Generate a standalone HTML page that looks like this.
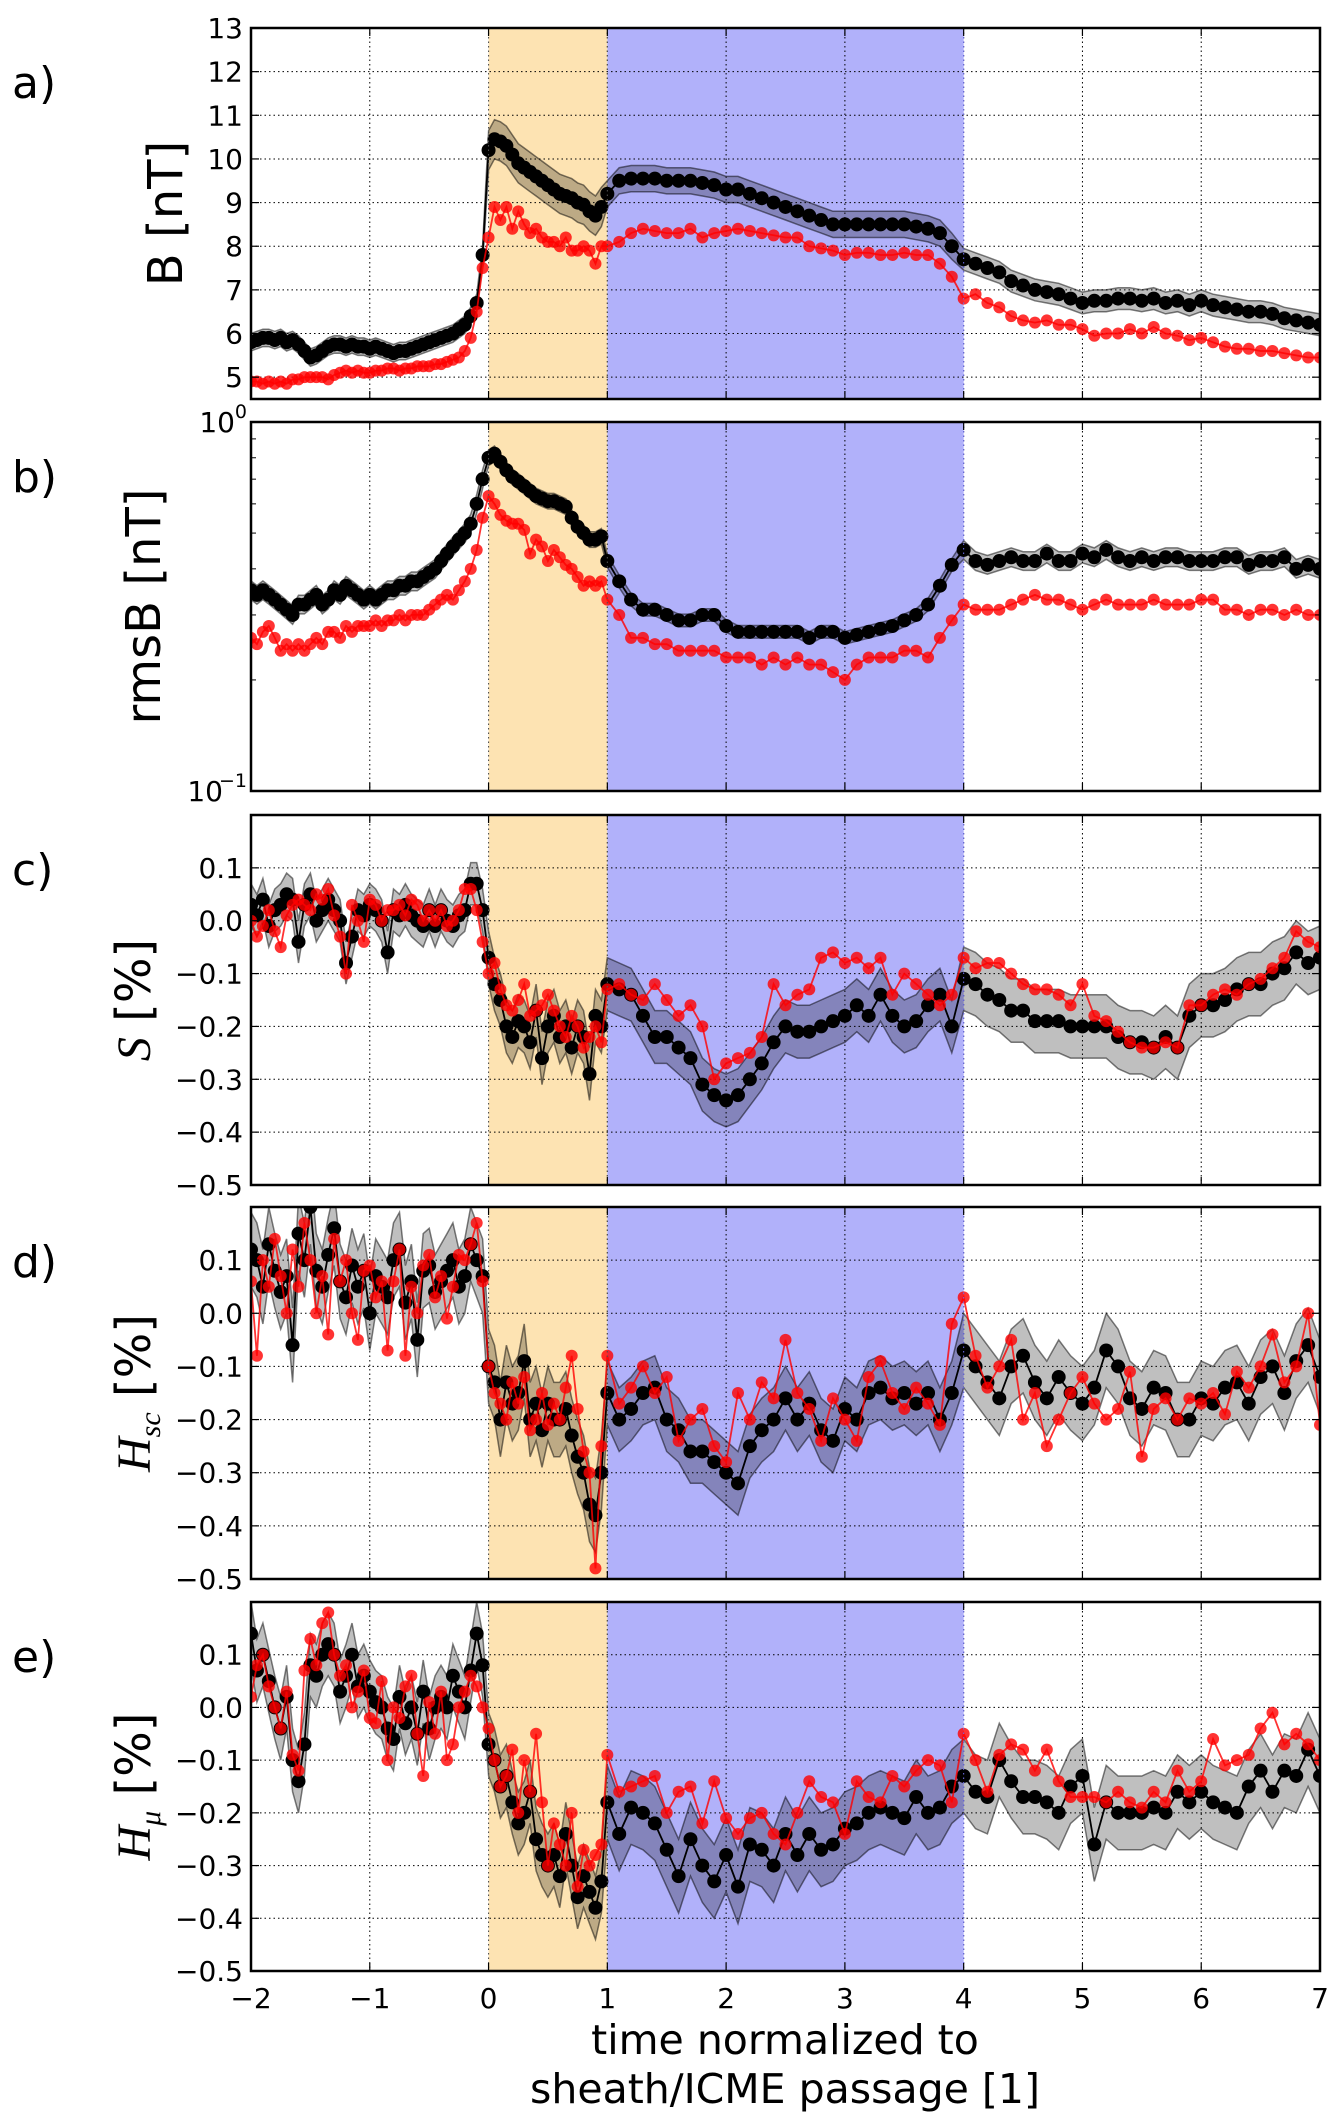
<!DOCTYPE html>
<html><head><meta charset="utf-8"><style>
html,body{margin:0;padding:0;background:#fff;}
svg{display:block;font-family:"DejaVu Sans","Liberation Sans",sans-serif;}
</style></head><body>
<svg id="chart" width="1343" height="2120" viewBox="0 0 1343 2120" xmlns="http://www.w3.org/2000/svg"></svg>
<script>
const times=[-2,-1.95,-1.9,-1.85,-1.8,-1.75,-1.7,-1.65,-1.6,-1.55,-1.5,-1.45,-1.4,-1.35,-1.3,-1.25,-1.2,-1.15,-1.1,-1.05,-1,-0.95,-0.9,-0.85,-0.8,-0.75,-0.7,-0.65,-0.6,-0.55,-0.5,-0.45,-0.4,-0.35,-0.3,-0.25,-0.2,-0.15,-0.1,-0.05,
0,0.05,0.1,0.15,0.2,0.25,0.3,0.35,0.4,0.45,0.5,0.55,0.6,0.65,0.7,0.75,0.8,0.85,0.9,0.95,
1,1.1,1.2,1.3,1.4,1.5,1.6,1.7,1.8,1.9,2,2.1,2.2,2.3,2.4,2.5,2.6,2.7,2.8,2.9,3,3.1,3.2,3.3,3.4,3.5,3.6,3.7,3.8,3.9,
4,4.1,4.2,4.3,4.4,4.5,4.6,4.7,4.8,4.9,5,5.1,5.2,5.3,5.4,5.5,5.6,5.7,5.8,5.9,6,6.1,6.2,6.3,6.4,6.5,6.6,6.7,6.8,6.9,7];
const xTicks=[-2,-1,0,1,2,3,4,5,6,7];
const regionBounds=[0,1,4];
// panel a
const aBlack=[5.8,5.85,5.9,5.9,5.85,5.9,5.8,5.85,5.75,5.6,5.45,5.5,5.6,5.7,5.75,5.75,5.7,5.75,5.7,5.7,5.65,5.7,5.65,5.6,5.55,5.6,5.6,5.65,5.7,5.75,5.8,5.85,5.9,5.95,6.0,6.1,6.2,6.4,6.7,7.8,
10.2,10.45,10.4,10.3,10.1,9.9,9.8,9.7,9.6,9.5,9.4,9.3,9.2,9.15,9.1,9.0,8.95,8.8,8.7,8.9,
9.2,9.5,9.55,9.55,9.55,9.5,9.5,9.5,9.45,9.4,9.3,9.3,9.2,9.1,9.0,8.9,8.8,8.7,8.6,8.5,8.5,8.5,8.5,8.5,8.5,8.5,8.45,8.4,8.3,8.0,
7.7,7.6,7.5,7.4,7.2,7.1,7.0,6.95,6.9,6.8,6.7,6.75,6.75,6.8,6.8,6.75,6.8,6.7,6.75,6.65,6.75,6.65,6.6,6.55,6.5,6.5,6.45,6.35,6.3,6.25,6.2];
const aRed=[4.9,4.9,4.85,4.9,4.85,4.9,4.85,4.95,4.95,5.0,5.0,5.0,5.0,4.95,5.05,5.1,5.15,5.1,5.15,5.1,5.1,5.15,5.15,5.2,5.2,5.15,5.2,5.2,5.25,5.25,5.25,5.3,5.3,5.35,5.4,5.45,5.6,5.9,6.5,7.5,
8.2,8.9,8.6,8.9,8.4,8.8,8.5,8.3,8.4,8.2,8.1,8.1,8.0,8.2,7.9,7.9,8.0,7.9,7.6,8.0,
8.0,8.1,8.3,8.4,8.35,8.3,8.3,8.4,8.2,8.3,8.35,8.4,8.35,8.3,8.25,8.2,8.2,8.0,7.95,7.9,7.8,7.85,7.85,7.8,7.8,7.85,7.8,7.8,7.6,7.3,
6.8,6.9,6.7,6.6,6.4,6.3,6.25,6.3,6.2,6.2,6.1,5.95,6.0,6.0,6.1,6.0,6.15,6.0,5.95,5.85,5.9,5.8,5.7,5.65,5.65,5.6,5.6,5.55,5.5,5.45,5.45];
const aSpread=[0.2,0.45,0.3,0.25];
const aTicks=[5,6,7,8,9,10,11,12,13];
// panel b (log)
const bBlack=[0.35,0.34,0.35,0.34,0.33,0.32,0.31,0.30,0.32,0.32,0.33,0.34,0.32,0.33,0.35,0.34,0.36,0.35,0.34,0.33,0.34,0.33,0.34,0.35,0.35,0.36,0.36,0.37,0.37,0.38,0.39,0.40,0.42,0.44,0.46,0.48,0.50,0.53,0.60,0.70,
0.80,0.82,0.78,0.74,0.71,0.69,0.67,0.65,0.63,0.62,0.61,0.61,0.60,0.59,0.55,0.52,0.50,0.48,0.48,0.49,
0.42,0.37,0.33,0.31,0.31,0.30,0.29,0.29,0.30,0.30,0.28,0.27,0.27,0.27,0.27,0.27,0.27,0.26,0.27,0.27,0.26,0.265,0.27,0.275,0.28,0.29,0.30,0.32,0.36,0.41,
0.45,0.42,0.41,0.42,0.43,0.42,0.42,0.44,0.42,0.42,0.44,0.43,0.45,0.43,0.42,0.43,0.42,0.43,0.43,0.42,0.42,0.42,0.43,0.43,0.41,0.42,0.42,0.43,0.40,0.41,0.40];
const bRed=[0.26,0.25,0.27,0.28,0.26,0.24,0.25,0.24,0.25,0.24,0.25,0.26,0.25,0.27,0.27,0.26,0.28,0.27,0.28,0.28,0.28,0.29,0.28,0.29,0.29,0.30,0.29,0.30,0.30,0.30,0.31,0.32,0.33,0.34,0.33,0.35,0.37,0.40,0.45,0.55,
0.63,0.60,0.56,0.54,0.53,0.53,0.51,0.44,0.48,0.46,0.42,0.45,0.43,0.41,0.40,0.38,0.36,0.37,0.36,0.37,
0.33,0.30,0.26,0.26,0.25,0.25,0.24,0.24,0.24,0.24,0.23,0.23,0.23,0.22,0.23,0.22,0.23,0.22,0.22,0.21,0.20,0.22,0.23,0.23,0.23,0.24,0.24,0.23,0.26,0.29,
0.32,0.31,0.31,0.31,0.32,0.33,0.34,0.33,0.33,0.32,0.31,0.32,0.33,0.32,0.32,0.32,0.33,0.32,0.32,0.32,0.33,0.33,0.31,0.31,0.30,0.31,0.31,0.30,0.31,0.30,0.30];
const bSpread=[0.06,0.05,0.04,0.06];
// panel c
const cBlack=[0.03,0.01,0.04,-0.01,0.02,0.03,0.05,0.04,-0.04,0.03,0.05,0.0,0.02,0.04,0.02,0.0,-0.08,-0.03,0.02,0.01,0.03,0.02,0.0,-0.06,0.02,0.01,0.03,0.01,0.0,-0.01,0.02,-0.01,0.02,0.0,-0.01,0.01,0.02,0.07,0.07,0.02,
-0.07,-0.12,-0.15,-0.2,-0.22,-0.19,-0.2,-0.23,-0.17,-0.26,-0.2,-0.18,-0.22,-0.2,-0.24,-0.2,-0.22,-0.29,-0.18,-0.2,
-0.12,-0.13,-0.14,-0.18,-0.22,-0.22,-0.24,-0.26,-0.31,-0.33,-0.34,-0.33,-0.3,-0.27,-0.23,-0.2,-0.21,-0.21,-0.2,-0.19,-0.18,-0.16,-0.18,-0.14,-0.18,-0.2,-0.19,-0.16,-0.14,-0.2,
-0.11,-0.12,-0.14,-0.15,-0.17,-0.17,-0.19,-0.19,-0.19,-0.2,-0.2,-0.2,-0.2,-0.22,-0.23,-0.23,-0.24,-0.22,-0.24,-0.18,-0.16,-0.16,-0.15,-0.13,-0.12,-0.12,-0.1,-0.09,-0.06,-0.08,-0.07];
const cRed=[0.0,-0.03,-0.01,0.02,-0.02,-0.05,0.01,0.03,0.04,0.03,0.02,0.05,0.04,0.06,0.01,-0.03,-0.1,0.03,0.0,-0.04,0.04,0.03,0.0,0.02,0.02,0.03,0.01,0.04,0.03,0.0,0.02,0.0,0.02,-0.01,0.0,0.02,0.06,0.06,0.02,-0.04,
-0.1,-0.08,-0.13,-0.16,-0.17,-0.15,-0.12,-0.18,-0.17,-0.16,-0.14,-0.17,-0.2,-0.22,-0.18,-0.2,-0.24,-0.22,-0.2,-0.23,
-0.13,-0.12,-0.14,-0.15,-0.12,-0.15,-0.18,-0.16,-0.2,-0.3,-0.27,-0.26,-0.25,-0.22,-0.12,-0.16,-0.14,-0.13,-0.07,-0.06,-0.08,-0.07,-0.09,-0.07,-0.14,-0.1,-0.12,-0.14,-0.16,-0.14,
-0.07,-0.09,-0.08,-0.08,-0.1,-0.12,-0.13,-0.13,-0.14,-0.16,-0.12,-0.18,-0.19,-0.21,-0.23,-0.24,-0.24,-0.23,-0.24,-0.16,-0.16,-0.14,-0.13,-0.14,-0.12,-0.11,-0.09,-0.07,-0.02,-0.04,-0.05];
const cSpread=[0.04,0.05,0.05,0.06];
// panel d
const dBlack=[0.12,0.1,0.05,0.13,0.08,0.04,0.07,-0.06,0.15,0.1,0.2,0.08,0.05,0.11,0.16,0.06,0.03,0.09,0.05,0.08,0.0,0.07,0.05,0.03,0.1,0.12,0.02,0.06,-0.05,0.08,0.09,0.04,0.06,0.08,0.1,0.05,0.07,0.13,0.1,0.07,
-0.1,-0.13,-0.2,-0.13,-0.17,-0.15,-0.09,-0.2,-0.17,-0.22,-0.17,-0.2,-0.2,-0.18,-0.23,-0.27,-0.3,-0.36,-0.38,-0.3,
-0.15,-0.2,-0.18,-0.15,-0.14,-0.2,-0.22,-0.26,-0.26,-0.28,-0.3,-0.32,-0.25,-0.22,-0.2,-0.16,-0.2,-0.17,-0.22,-0.24,-0.18,-0.2,-0.15,-0.14,-0.16,-0.15,-0.17,-0.15,-0.2,-0.15,
-0.07,-0.1,-0.13,-0.16,-0.1,-0.08,-0.13,-0.16,-0.12,-0.15,-0.17,-0.14,-0.07,-0.1,-0.16,-0.18,-0.14,-0.15,-0.2,-0.2,-0.16,-0.17,-0.14,-0.13,-0.17,-0.12,-0.1,-0.15,-0.09,-0.06,-0.12];
const dRed=[0.06,-0.08,0.1,0.05,0.14,0.07,0.0,0.12,0.05,0.17,0.1,0.0,0.07,-0.04,0.14,0.06,0.1,0.0,-0.05,0.08,0.09,0.03,0.06,-0.07,0.06,0.12,-0.08,0.05,0.0,0.09,0.11,0.03,0.07,-0.01,0.05,0.11,0.1,0.13,0.17,0.06,
-0.1,-0.15,-0.17,-0.2,-0.13,-0.17,-0.12,-0.22,-0.2,-0.15,-0.21,-0.17,-0.2,-0.14,-0.08,-0.18,-0.26,-0.3,-0.48,-0.25,
-0.08,-0.17,-0.14,-0.1,-0.15,-0.12,-0.24,-0.2,-0.18,-0.25,-0.28,-0.15,-0.2,-0.13,-0.16,-0.05,-0.15,-0.18,-0.24,-0.16,-0.2,-0.24,-0.12,-0.09,-0.15,-0.18,-0.14,-0.17,-0.21,-0.02,
0.03,-0.08,-0.14,-0.1,-0.05,-0.2,-0.15,-0.25,-0.2,-0.15,-0.12,-0.17,-0.2,-0.18,-0.11,-0.27,-0.18,-0.16,-0.2,-0.16,-0.17,-0.15,-0.19,-0.11,-0.14,-0.1,-0.04,-0.13,-0.1,0.0,-0.21];
const dSpread=[0.07,0.07,0.06,0.07];
// panel e
const eBlack=[0.14,0.07,0.1,0.05,0.0,-0.04,0.02,-0.1,-0.14,-0.07,0.08,0.06,0.1,0.12,0.1,0.03,0.06,0.1,0.04,0.06,0.03,0.01,0.0,-0.04,-0.06,0.02,-0.03,0.0,-0.05,0.03,-0.04,0.0,0.02,0.0,0.06,0.03,0.0,0.07,0.14,0.08,
-0.07,-0.1,-0.15,-0.13,-0.18,-0.22,-0.2,-0.16,-0.25,-0.28,-0.3,-0.28,-0.32,-0.24,-0.3,-0.36,-0.32,-0.35,-0.38,-0.33,
-0.18,-0.24,-0.19,-0.2,-0.22,-0.27,-0.32,-0.25,-0.3,-0.33,-0.28,-0.34,-0.26,-0.27,-0.3,-0.24,-0.28,-0.24,-0.27,-0.26,-0.23,-0.22,-0.2,-0.19,-0.2,-0.21,-0.17,-0.2,-0.19,-0.15,
-0.13,-0.16,-0.17,-0.1,-0.14,-0.17,-0.17,-0.18,-0.2,-0.15,-0.13,-0.26,-0.18,-0.2,-0.2,-0.2,-0.19,-0.2,-0.16,-0.18,-0.16,-0.18,-0.19,-0.2,-0.15,-0.12,-0.16,-0.12,-0.13,-0.08,-0.13];
const eRed=[0.02,0.08,0.1,0.04,0.0,-0.04,0.03,-0.09,-0.12,0.07,0.13,0.08,0.16,0.18,0.1,0.06,0.08,0.0,0.03,0.07,-0.02,-0.03,0.05,-0.1,0.0,-0.02,0.04,0.06,-0.05,-0.13,0.01,-0.05,0.03,-0.1,-0.07,0.0,0.03,0.06,0.04,0.0,
-0.04,-0.1,-0.15,-0.13,-0.08,-0.2,-0.1,-0.16,-0.05,-0.18,-0.3,-0.22,-0.26,-0.3,-0.2,-0.34,-0.27,-0.3,-0.28,-0.26,
-0.09,-0.16,-0.15,-0.14,-0.13,-0.2,-0.16,-0.15,-0.22,-0.14,-0.21,-0.24,-0.21,-0.2,-0.24,-0.26,-0.2,-0.14,-0.17,-0.18,-0.24,-0.14,-0.17,-0.18,-0.13,-0.15,-0.12,-0.1,-0.11,-0.18,
-0.05,-0.1,-0.16,-0.09,-0.07,-0.08,-0.12,-0.08,-0.14,-0.17,-0.17,-0.17,-0.18,-0.16,-0.18,-0.19,-0.16,-0.18,-0.12,-0.16,-0.14,-0.06,-0.11,-0.1,-0.09,-0.04,-0.01,-0.07,-0.05,-0.07,-0.1];
const eSpread=[0.06,0.06,0.07,0.07];
const pctTicks=[-0.5,-0.4,-0.3,-0.2,-0.1,0.0,0.1];
const pctLabels=["\u22120.5","\u22120.4","\u22120.3","\u22120.2","\u22120.1","0.0","0.1"];

const NS="http://www.w3.org/2000/svg";
const svg=document.getElementById('chart');
const X0=251,X1=1320,XMIN=-2,XMAX=7;
function xs(t){return X0+(t-XMIN)/(XMAX-XMIN)*(X1-X0);}
function mk(tag,attrs,parent){const e=document.createElementNS(NS,tag);for(const k in attrs)e.setAttribute(k,attrs[k]);(parent||svg).appendChild(e);return e;}
function region(t){return t<0?0:(t<1?1:(t<4?2:3));}

function panel(cfg){
  const g=mk('g',{});
  
  
  const top=cfg.top,bot=cfg.bot;
  let ys;
  if(cfg.log){ys=v=>bot-(Math.log10(v)-Math.log10(cfg.ymin))/(Math.log10(cfg.ymax)-Math.log10(cfg.ymin))*(bot-top);}
  else{ys=v=>bot-(v-cfg.ymin)/(cfg.ymax-cfg.ymin)*(bot-top);}
  const clipId='clip-'+cfg.name;
  const cp=mk('clipPath',{id:clipId},g);mk('rect',{x:X0,y:top,width:X1-X0,height:bot-top},cp);
  const sh=mk('rect',{x:xs(regionBounds[0]),y:top,width:xs(regionBounds[1])-xs(regionBounds[0]),height:bot-top,fill:'#fde3b2'},g);
  
  
  const ic=mk('rect',{x:xs(regionBounds[1]),y:top,width:xs(regionBounds[2])-xs(regionBounds[1]),height:bot-top,fill:'#b1b1fa'},g);
  
  
  xTicks.forEach(t=>{mk('line',{x1:xs(t),x2:xs(t),y1:top,y2:bot,stroke:'#000','stroke-width':1,'stroke-dasharray':'1.5,3'},g);});
  cfg.grid.forEach(v=>{mk('line',{x1:X0,x2:X1,y1:ys(v),y2:ys(v),stroke:'#000','stroke-width':1,'stroke-dasharray':'1.5,3'},g);});
  const dg=mk('g',{'clip-path':'url(#'+clipId+')'},g);
  const n=Math.min(times.length,cfg.black.length);
  const up=[],lo=[];
  for(let i=0;i<n;i++){const s=cfg.spread[region(times[i])];
    const v=cfg.black[i];const u=cfg.log?v*(1+s):v+s;const l=cfg.log?v/(1+s):v-s;
    up.push(xs(times[i]).toFixed(1)+','+ys(u).toFixed(1));lo.unshift(xs(times[i]).toFixed(1)+','+ys(l).toFixed(1));}
  const band=mk('polygon',{points:up.concat(lo).join(' '),fill:'rgba(0,0,0,0.25)',stroke:'rgba(0,0,0,0.5)','stroke-width':1.5},dg);
  
  
  function series(vals,color,r,nm,op){
    const m=Math.min(times.length,vals.length);
    const pts=[];for(let i=0;i<m;i++)pts.push(xs(times[i]).toFixed(1)+','+ys(vals[i]).toFixed(1));
    const sg=mk('g',{},dg);
    
    
    mk('polyline',{points:pts.join(' '),fill:'none',stroke:color,'stroke-width':1.8,opacity:op},sg);
    for(let i=0;i<m;i++){const c=mk('circle',{cx:xs(times[i]),cy:ys(vals[i]),r:r,fill:color,opacity:op},sg);
      
      }
  }
  series(cfg.black,'#000',7,'black-series',1);
  series(cfg.red,'#ff0000',6,'red-series',0.8);
  regionBounds.forEach(t=>{mk('line',{x1:xs(t),x2:xs(t),y1:top,y2:bot,stroke:t===4?'#7070f0':'#555','stroke-width':1,'stroke-dasharray':'1.5,3'},g);});
  const fr=mk('rect',{x:X0,y:top,width:X1-X0,height:bot-top,fill:'none',stroke:'#000','stroke-width':2.5},g);
  
  
  xTicks.forEach(t=>{mk('line',{x1:xs(t),x2:xs(t),y1:bot,y2:bot-8,stroke:'#000','stroke-width':1.2},g);mk('line',{x1:xs(t),x2:xs(t),y1:top,y2:top+8,stroke:'#000','stroke-width':1.2},g);});
  cfg.ticks.forEach(v=>{mk('line',{x1:X0,x2:X0+8,y1:ys(v),y2:ys(v),stroke:'#000','stroke-width':1.2},g);mk('line',{x1:X1,x2:X1-8,y1:ys(v),y2:ys(v),stroke:'#000','stroke-width':1.2},g);});
  (cfg.minor||[]).forEach(v=>{mk('line',{x1:X0,x2:X0+5,y1:ys(v),y2:ys(v),stroke:'#000','stroke-width':1},g);mk('line',{x1:X1,x2:X1-5,y1:ys(v),y2:ys(v),stroke:'#000','stroke-width':1},g);});
  if(cfg.labels){cfg.ticks.forEach((v,i)=>{const tx=mk('text',{x:X0-8,y:ys(v)+10,'text-anchor':'end','font-size':28},g);tx.textContent=cfg.labels[i];
    
    });}
  if(cfg.log){
    const t1=mk('text',{x:X0-16,y:top+10,'text-anchor':'end','font-size':28},g);t1.textContent='10';
    const s1=mk('text',{x:X0-4,y:top-4,'text-anchor':'end','font-size':19},g);s1.textContent='0';
    const t2=mk('text',{x:X0-28,y:bot+10,'text-anchor':'end','font-size':28},g);t2.textContent='10';
    const s2=mk('text',{x:X0-4,y:bot-4,'text-anchor':'end','font-size':19},g);s2.textContent='\u22121';
    [t1,s1,t2,s2].forEach(e=>{});
  }
  const L=mk('text',{x:12,y:top+70,'font-size':44},g);L.textContent=cfg.letter;
  
  
  const yl=mk('text',{transform:'translate('+cfg.ylx+','+((top+bot)/2)+') rotate(-90)','text-anchor':'middle','font-size':cfg.ylfs||48},g);
  yl.innerHTML=cfg.ylabel;
  
  
}

panel({name:'panel-a-b-field',top:28,bot:399,ymin:4.5,ymax:13,black:aBlack,red:aRed,spread:aSpread,ticks:aTicks,grid:aTicks,labels:aTicks.map(String),letter:'a)',ylx:182,ylabel:'B [nT]'});
panel({name:'panel-b-rmsb',top:422,bot:791,log:true,ymin:0.1,ymax:1,black:bBlack,red:bRed,spread:bSpread,ticks:[0.1,1],grid:[],minor:[0.2,0.3,0.4,0.5,0.6,0.7,0.8,0.9],letter:'b)',ylx:160,ylabel:'rmsB [nT]'});
panel({name:'panel-c-s',top:815,bot:1185,ymin:-0.5,ymax:0.2,black:cBlack,red:cRed,spread:cSpread,ticks:pctTicks,grid:pctTicks,labels:pctLabels,letter:'c)',ylx:150,ylabel:'<tspan font-family="Liberation Serif,serif" font-style="italic">S</tspan> [%]'});
panel({name:'panel-d-hsc',top:1207,bot:1579,ymin:-0.5,ymax:0.2,black:dBlack,red:dRed,spread:dSpread,ticks:pctTicks,grid:pctTicks,labels:pctLabels,letter:'d)',ylx:150,ylabel:'<tspan font-family="Liberation Serif,serif" font-style="italic">H</tspan><tspan font-family="Liberation Serif,serif" font-style="italic" font-size="30" dy="10">sc</tspan><tspan dy="-10"> [%]</tspan>'});
panel({name:'panel-e-hmu',top:1602,bot:1971,ymin:-0.5,ymax:0.2,black:eBlack,red:eRed,spread:eSpread,ticks:pctTicks,grid:pctTicks,labels:pctLabels,letter:'e)',ylx:150,ylabel:'<tspan font-family="Liberation Serif,serif" font-style="italic">H</tspan><tspan font-family="Liberation Serif,serif" font-style="italic" font-size="30" dy="10">\u03bc</tspan><tspan dy="-10"> [%]</tspan>'});

xTicks.forEach(t=>{const tx=mk('text',{x:xs(t),y:2008,'text-anchor':'middle','font-size':28});tx.textContent=(t<0?'\u2212'+(-t):String(t));
  
  });
const xl1=mk('text',{x:785,y:2054,'text-anchor':'middle','font-size':41});xl1.textContent='time normalized to';


const xl2=mk('text',{x:785,y:2103,'text-anchor':'middle','font-size':41});xl2.textContent='sheath/ICME passage [1]';


</script>
</body></html>
